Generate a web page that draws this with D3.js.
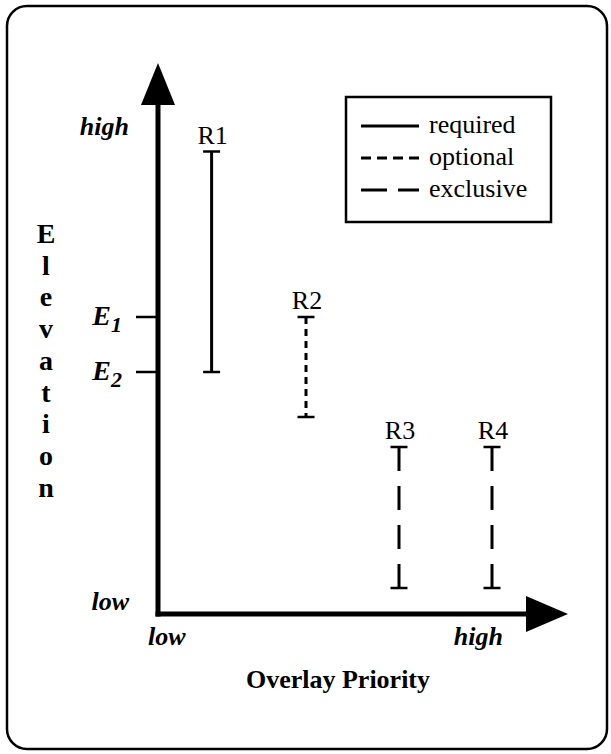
<!DOCTYPE html>
<html>
<head>
<meta charset="utf-8">
<script src="https://cdn.jsdelivr.net/npm/d3@7"></script>
<style>
html,body{margin:0;padding:0;background:#fff;}
svg{display:block;}
text{font-family:"Liberation Serif","Times New Roman",serif;fill:#000;}
</style>
</head>
<body>
<svg id="chart" width="611" height="754"></svg>
<script>
// ---- data ----
const ranges = ["R1", "R2", "R3", "R4"];
const priority = [13.4, 37, 60.25, 83.5];          // overlay priority (x)
const elevTop = [92.5, 59.4, 33.4, 33.4];          // upper elevation
const elevBottom = [48.4, 39.4, 5.2, 5.2];         // lower elevation
const rangeType = ["required", "optional", "exclusive", "exclusive"];
const legendLabels = ["required", "optional", "exclusive"];
const yTickLabels = ["high", "E1", "E2", "low"];
const yTickValues = [97.5, 59.4, 48.4, 2.5];
const yTickMarks = [false, true, true, false];
const xTickLabels = ["low", "high"];
const xTickValues = [0, 80];
const yTitle = "Elevation";
const xTitle = "Overlay Priority";

// ---- layout ----
const svg = d3.select("#chart");
const x = d3.scaleLinear().domain([0, 100]).range([158, 558]);
const y = d3.scaleLinear().domain([0, 100]).range([614, 114]);
const dash = {required: null, optional: "7,5", exclusive: "24,15"};
const legendDash = {required: null, optional: "10,6", exclusive: "26,11"};
const FS = 26;

// frame
svg.append("rect").attr("x", 7).attr("y", 6).attr("width", 600).attr("height", 743)
  .attr("rx", 20).attr("ry", 20).attr("fill", "none").attr("stroke", "#000").attr("stroke-width", 2.5);

// axes
const x0 = x(0), y0 = y(0);
const yTip = 63, xTip = 568;
svg.append("line").attr("x1", x0).attr("y1", y0 + 2.5).attr("x2", x0).attr("y2", yTip + 40)
  .attr("stroke", "#000").attr("stroke-width", 5);
svg.append("path").attr("d", `M${x0},${yTip} L${x0 - 17},${yTip + 42} L${x0 + 17},${yTip + 42} Z`).attr("fill", "#000");
svg.append("line").attr("x1", x0 - 2.5).attr("y1", y0).attr("x2", xTip - 40).attr("y2", y0)
  .attr("stroke", "#000").attr("stroke-width", 5);
svg.append("path").attr("d", `M${xTip},${y0} L${xTip - 42},${y0 - 18} L${xTip - 42},${y0 + 18} Z`).attr("fill", "#000");

// y ticks / labels
yTickLabels.forEach((lab, i) => {
  const yy = y(yTickValues[i]);
  if (yTickMarks[i]) {
    svg.append("line").attr("x1", x0 - 22).attr("x2", x0).attr("y1", yy).attr("y2", yy)
      .attr("stroke", "#000").attr("stroke-width", 2.5);
  }
  const t = svg.append("text").attr("x", 129).attr("y", yy + 8).attr("text-anchor", "end")
    .attr("font-size", FS).attr("font-weight", "bold").attr("font-style", "italic");
  if (lab.length === 2 && lab[0] === "E") {
    t.append("tspan").attr("font-size", 28).text("E");
    t.append("tspan").attr("dy", 7).attr("font-size", 22).text(lab[1]);
    t.attr("x", 122);
  } else {
    t.text(lab);
  }
});

// x tick labels
xTickLabels.forEach((lab, i) => {
  svg.append("text").attr("x", i === 0 ? x(xTickValues[i]) - 10 : x(xTickValues[i]) + 25)
    .attr("y", 645).attr("text-anchor", i === 0 ? "start" : "end")
    .attr("font-size", FS).attr("font-weight", "bold").attr("font-style", "italic").text(lab);
});

// titles
svg.append("text").attr("x", 338).attr("y", 688).attr("text-anchor", "middle")
  .attr("font-size", FS).attr("font-weight", "bold").text(xTitle);
yTitle.split("").forEach((ch, i) => {
  svg.append("text").attr("x", 46).attr("y", 243 + i * 31.7).attr("text-anchor", "middle")
    .attr("font-size", 28).attr("font-weight", "bold").text(ch);
});

// ranges
ranges.forEach((r, i) => {
  const xx = x(priority[i]), yt = y(elevTop[i]), yb = y(elevBottom[i]);
  svg.append("line").attr("x1", xx).attr("x2", xx).attr("y1", yt).attr("y2", yb)
    .attr("stroke", "#000").attr("stroke-width", 3)
    .attr("stroke-dasharray", dash[rangeType[i]]);
  [yt, yb].forEach(yy => {
    svg.append("line").attr("x1", xx - 8.5).attr("x2", xx + 8.5).attr("y1", yy).attr("y2", yy)
      .attr("stroke", "#000").attr("stroke-width", 2.5);
  });
  svg.append("text").attr("x", xx + 1).attr("y", yt - 8).attr("text-anchor", "middle")
    .attr("font-size", FS).text(r);
});

// legend
const lg = svg.append("g");
lg.append("rect").attr("x", 346).attr("y", 97).attr("width", 205).attr("height", 125)
  .attr("fill", "#fff").attr("stroke", "#000").attr("stroke-width", 2.5);
legendLabels.forEach((lab, i) => {
  const yy = 126 + i * 32;
  lg.append("line").attr("x1", 361).attr("x2", 419).attr("y1", yy).attr("y2", yy)
    .attr("stroke", "#000").attr("stroke-width", 3).attr("stroke-dasharray", legendDash[lab]);
  lg.append("text").attr("x", 429).attr("y", yy + 7).attr("font-size", FS).text(lab);
});
</script>
</body>
</html>
